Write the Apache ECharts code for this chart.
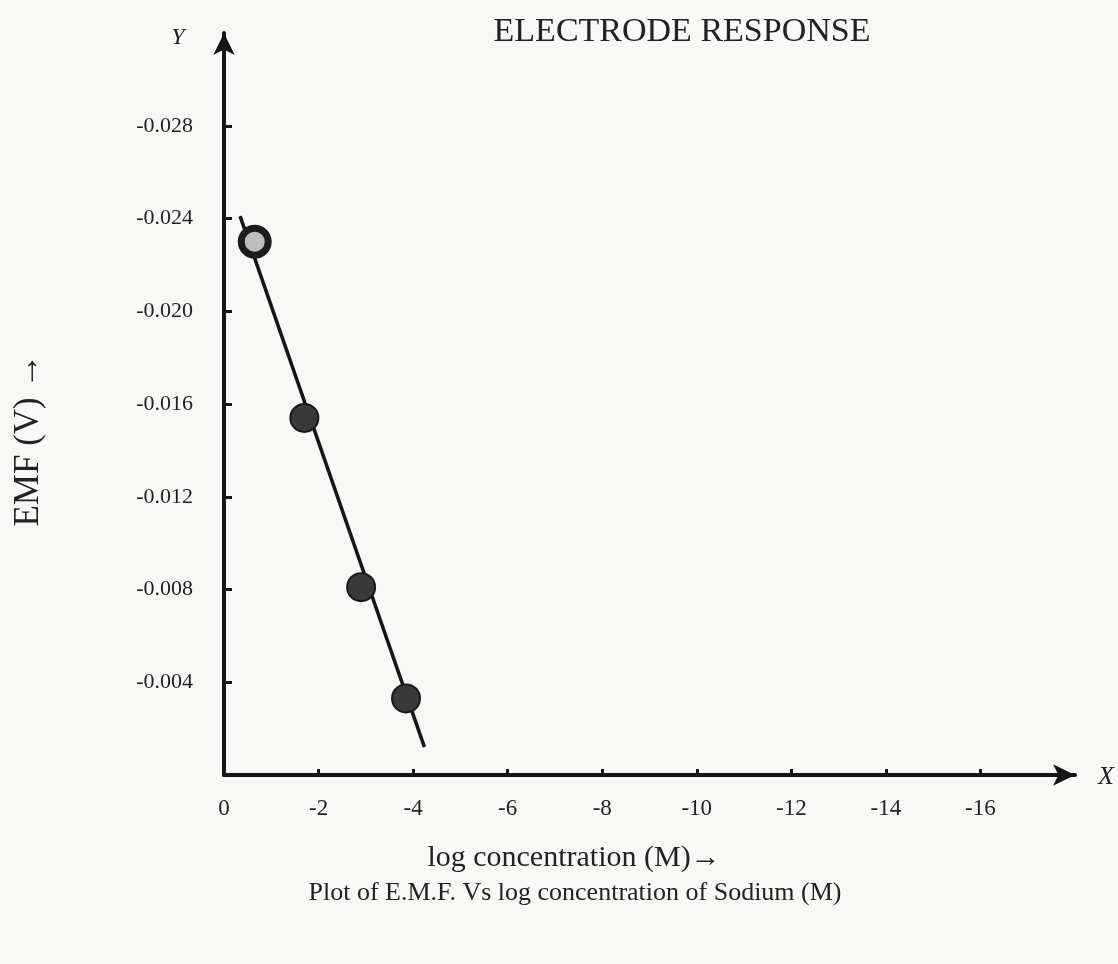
<!DOCTYPE html>
<html>
<head>
<meta charset="utf-8">
<title>Electrode response</title>
<script src="https://cdn.jsdelivr.net/npm/echarts@6/dist/echarts.min.js"></script>
<style>
  html, body { margin: 0; padding: 0; background: #f8f8f6; }
  #main { width: 1118px; height: 964px; }
</style>
</head>
<body>
<div id="main"></div>
<script>
// measured points (log conc, EMF in volts)
var logConc = [-0.65, -1.7, -2.9, -3.85];
var emf = [-0.023, -0.0154, -0.0081, -0.0033];

// ends of the drawn straight line
var fitX = [-0.34, -4.24];
var fitY = [-0.0241, -0.0012];

var xTicks = [0, -2, -4, -6, -8, -10, -12, -14, -16];
var yTicks = [-0.028, -0.024, -0.020, -0.016, -0.012, -0.008, -0.004];

var serif = '"Liberation Serif", "DejaVu Serif", serif';
var ink = '#151515';

var chart = echarts.init(document.getElementById('main'));

var pointData = logConc.map(function (x, i) {
  if (i === 0) {
    // first point is drawn as a ring
    return {
      value: [x, emf[i]],
      itemStyle: { color: '#bdbdbd', borderColor: '#1c1c1c', borderWidth: 7 },
      symbolSize: 27
    };
  }
  return [x, emf[i]];
});

function label(text, x, y, font, rot) {
  return {
    type: 'text', x: x, y: y, rotation: rot || 0,
    style: {
      text: text, font: font, fill: '#222',
      align: 'center', verticalAlign: 'middle', textAlign: 'center', textVerticalAlign: 'middle'
    }
  };
}

var option = {
  backgroundColor: '#f8f8f6',
  animation: false,
  grid: { left: 224, right: 43, top: 33, bottom: 189, containLabel: false },
  xAxis: {
    type: 'value',
    inverse: true,
    min: -18,
    max: 0,
    splitLine: { show: false },
    axisLine: {
      onZero: false,
      lineStyle: { color: ink, width: 4 },
      symbol: ['none', 'arrow'],
      symbolSize: [16, 22]
    },
    axisTick: {
      inside: true, length: 6, lineStyle: { color: ink, width: 3 },
      customValues: xTicks
    },
    axisLabel: {
      customValues: xTicks,
      color: '#222', fontFamily: serif, fontSize: 23, margin: 22
    }
  },
  yAxis: {
    type: 'value',
    inverse: true,
    min: -0.032,
    max: 0,
    splitLine: { show: false },
    axisLine: {
      onZero: false,
      lineStyle: { color: ink, width: 4 },
      symbol: ['none', 'arrow'],
      symbolSize: [16, 22]
    },
    axisTick: {
      inside: true, length: 8, lineStyle: { color: ink, width: 3 },
      customValues: yTicks
    },
    axisLabel: {
      customValues: yTicks,
      color: '#222', fontFamily: serif, fontSize: 22, margin: 31,
      formatter: function (v) { return v.toFixed(3); }
    }
  },
  series: [
    {
      type: 'line',
      data: fitX.map(function (x, i) { return [x, fitY[i]]; }),
      symbol: 'none',
      lineStyle: { color: ink, width: 3.5 },
      z: 2
    },
    {
      type: 'scatter',
      data: pointData,
      symbol: 'circle',
      symbolSize: 28,
      itemStyle: { color: '#3a3a3a', borderColor: '#1a1a1a', borderWidth: 2, opacity: 1 },
      z: 3
    }
  ],
  graphic: [
    label('ELECTRODE RESPONSE', 682, 32, '34px ' + serif),
    label('EMF (V) \u2192', 29, 440, '35px ' + serif, Math.PI / 2),
    label('Y', 178, 38, 'italic 24px ' + serif),
    label('X', 1106, 777, 'italic 26px ' + serif),
    label('log concentration (M)\u2192', 574, 858, '30px ' + serif),
    label('Plot of E.M.F. Vs log concentration of Sodium (M)', 575, 893, '26px ' + serif)
  ]
};

chart.setOption(option);
</script>
</body>
</html>
